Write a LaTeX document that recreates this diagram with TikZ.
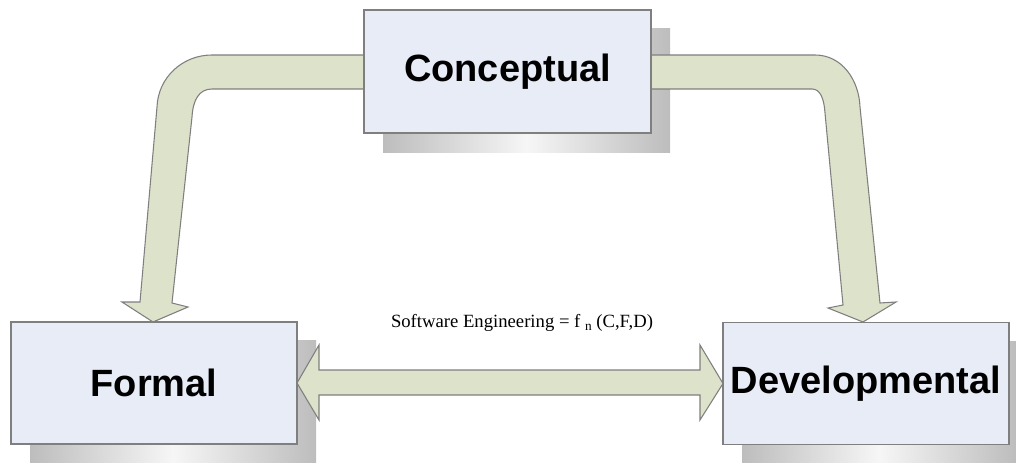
\documentclass[tikz,border=0pt]{standalone}
\usepackage{fontspec}
\setmainfont{Liberation Serif}
\newfontfamily\labelfont{Liberation Sans}
\usetikzlibrary{calc}
\definecolor{boxfill}{HTML}{E8ECF7}
\definecolor{arrowfill}{HTML}{DDE2CB}
\definecolor{edgegray}{HTML}{7F7F7F}
\definecolor{shadowgray}{HTML}{BDBDBD}
\definecolor{shadowlight}{HTML}{F6F6F6}
\begin{document}
\begin{tikzpicture}[x=0.75pt,y=-0.75pt,
  box/.style={draw=edgegray,line width=0.8pt,fill=boxfill,inner sep=0pt,outer sep=0pt,
    minimum width=214.5pt,minimum height=91.5pt,
    font=\labelfont\bfseries\fontsize{28.5}{30}\selectfont},
  shadowbox/.style={left color=shadowgray,right color=shadowgray,middle color=shadowlight},
  fatarrow/.style={draw=edgegray,line width=0.8pt,fill=arrowfill,line join=miter}]
\useasboundingbox (0,0) rectangle (1016,463);
% shadows
\shade[shadowbox] (383,29) rectangle (670,153);
\shade[shadowbox] (30,340) rectangle (316,463);
\shade[shadowbox] (742,341) rectangle (1016,463);
% fat arrows
\filldraw[fatarrow] (400,55) -- (212,55) .. controls (182,55) and (158,78) .. (157,107)
  -- (140,302) -- (122,302) -- (153,322) -- (188,307) -- (172,303)
  -- (192,117) .. controls (193,100) and (199,89) .. (212,89) -- (400,89) -- cycle;
\filldraw[fatarrow] (620,55) -- (815,55) .. controls (842,55) and (859,80) .. (860,107)
  -- (880,303) -- (896,302) -- (863,322) -- (828,308) -- (843,305)
  -- (825,113) .. controls (824,98) and (820,89) .. (812,89) -- (620,89) -- cycle;
% boxes
\node[box,minimum width=215.25pt,minimum height=92.25pt] (C) at (507.5,71.5) {Conceptual};
\node[box] (F) at (154,383) {Formal};
\node[box] (D) at (866,383.5) {Developmental};
% double arrow between Formal and Developmental
\filldraw[fatarrow] (F.east) -- (319,345) -- (319,370) -- (700,370) -- (700,345)
  -- (D.west) -- (700,420) -- (700,395) -- (319,395) -- (319,420) -- cycle;
\node[anchor=base,inner sep=0pt,font=\fontsize{14}{16}\selectfont] (eq) at (522,327)
  {Software Engineering = f \raisebox{-0.45ex}{\fontsize{10}{10}\selectfont n} (C,F,D)};
\end{tikzpicture}
\end{document}
